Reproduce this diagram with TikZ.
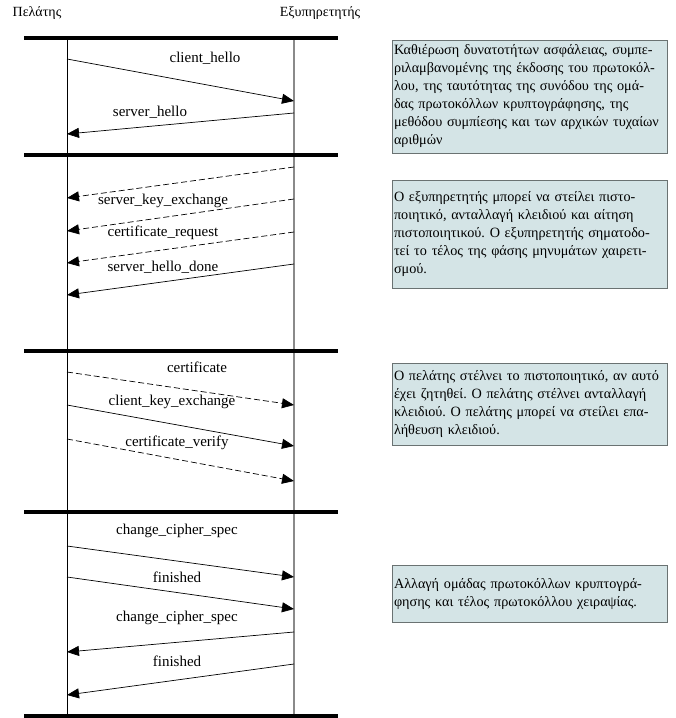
\documentclass[tikz,border=0pt]{standalone}
\usepackage{fontspec}
\setmainfont{Liberation Serif}
\usetikzlibrary{arrows.meta}
\usetikzlibrary{positioning}
\definecolor{notefill}{HTML}{D4E4E6}
\definecolor{noteedge}{HTML}{6A7272}
\definecolor{servgray}{HTML}{8A8A8A}
\frenchspacing
\tikzset{
  phasebar/.style={line width=4pt},
  msg/.style={line width=0.7pt, -{Triangle[length=12pt,width=10pt]}},
  msgdash/.style={msg, dash pattern=on 6pt off 3pt},
  msglabel/.style={font=\fontsize{15}{17}\selectfont, inner sep=0pt},
  headlabel/.style={font=\fontsize{14}{16}\selectfont, inner sep=0pt},
  notebox/.style={draw=noteedge, fill=notefill, line width=0.8pt, minimum width=275pt,
    text width=271pt, inner xsep=2pt, inner ysep=2pt, align=left,
    font=\fontsize{14.2}{18}\selectfont}
}

\begin{document}
\begin{tikzpicture}[x=1pt, y=-1pt]
            \useasboundingbox (0,0) rectangle (676,718);

            % Headers
            \node[headlabel] (client) at (37,13) {Πελάτης};
            \node[headlabel] (server) at (320,13) {Εξυπηρετητής};

            % Lifelines
            \coordinate (ctop) at (67,38);
            \coordinate (cbot) at (67,718);
            \coordinate (stop) at (294,38);
            \coordinate (sbot) at (294,718);
            \draw[line width=0.9pt] (ctop) -- (cbot);
            \draw[servgray, line width=1.2pt] (stop) -- (sbot);

            % Phase bars
            \foreach \y in {38,155,351,512,716}
                \draw[phasebar] (24,\y) -- (338,\y);

            % Phase 1
            \coordinate (c1) at (67,59);   \coordinate (s1) at (294,101);
            \coordinate (s2) at (294,113); \coordinate (c2) at (67,134);
            \draw[msg] (c1) -- (s1);
            \draw[msg] (s2) -- (c2);
            \node[msglabel] (m1) at (205,58) {client\_hello};
            \node[msglabel] (m2) at (150,112) {server\_hello};

            % Phase 2
            \coordinate (s3) at (294,167); \coordinate (c3) at (67,198);
            \coordinate (s4) at (294,199); \coordinate (c4) at (67,231);
            \coordinate (s5) at (294,232); \coordinate (c5) at (67,263);
            \coordinate (s6) at (294,264); \coordinate (c6) at (67,295);
            \draw[msgdash] (s3) -- (c3);
            \draw[msgdash] (s4) -- (c4);
            \draw[msgdash] (s5) -- (c5);
            \draw[msg] (s6) -- (c6);
            \node[msglabel] (m3) at (163,201) {server\_key\_exchange};
            \node[msglabel] (m4) at (163,233) {certificate\_request};
            \node[msglabel] (m5) at (163,267) {server\_hello\_done};

            % Phase 3
            \coordinate (c7) at (67,372);  \coordinate (s7) at (294,405);
            \coordinate (c8) at (67,405);  \coordinate (s8) at (294,446);
            \coordinate (c9) at (67,439);  \coordinate (s9) at (294,481);
            \draw[msgdash] (c7) -- (s7);
            \draw[msg] (c8) -- (s8);
            \draw[msgdash] (c9) -- (s9);
            \node[msglabel] (m6) at (197,367) {certificate};
            \node[msglabel] (m7) at (172,402) {client\_key\_exchange};
            \node[msglabel] (m8) at (177,443) {certificate\_verify};

            % Phase 4
            \coordinate (c10) at (67,546);  \coordinate (s10) at (294,577);
            \coordinate (c11) at (67,577);  \coordinate (s11) at (294,609);
            \coordinate (s12) at (294,632); \coordinate (c12) at (67,652);
            \coordinate (s13) at (294,664); \coordinate (c13) at (67,695);
            \draw[msg] (c10) -- (s10);
            \draw[msg] (c11) -- (s11);
            \draw[msg] (s12) -- (c12);
            \draw[msg] (s13) -- (c13);
            \node[msglabel] (m9) at (177,531) {change\_cipher\_spec};
            \node[msglabel] (m10) at (177,577) {finished};
            \node[msglabel] (m11) at (177,618) {change\_cipher\_spec};
            \node[msglabel] (m12) at (177,661) {finished};

            % Notes
            \node[notebox, minimum height=113pt] (note1) at (529.5,96.5)
                {Καθιέρωση δυνατοτήτων ασφάλειας, συμπε-\\
                 ριλαμβανομένης της έκδοσης του πρωτοκόλ-\\
                 λου, της ταυτότητας της συνόδου της ομά-\\
                 δας πρωτοκόλλων κρυπτογράφησης, της\\
                 μεθόδου συμπίεσης και των αρχικών τυχαίων\\
                 αριθμών};
            \node[notebox, minimum height=108pt] (note2) at (529.5,234)
                {Ο εξυπηρετητής μπορεί να στείλει πιστο-\\
                 ποιητικό, ανταλλαγή κλειδιού και αίτηση\\
                 πιστοποιητικού. Ο εξυπηρετητής σηματοδο-\\
                 τεί το τέλος της φάσης μηνυμάτων χαιρετι-\\
                 σμού.};
            \node[notebox, minimum height=82pt] (note3) at (529.5,404)
                {Ο πελάτης στέλνει το πιστοποιητικό, αν αυτό\\
                 έχει ζητηθεί. Ο πελάτης στέλνει ανταλλαγή\\
                 κλειδιού. Ο πελάτης μπορεί να στείλει επα-\\
                 λήθευση κλειδιού.};
            \node[notebox, minimum height=57pt] (note4) at (529.5,593.5)
                {Αλλαγή ομάδας πρωτοκόλλων κρυπτογρά-\\
                 φησης και τέλος πρωτοκόλλου χειραψίας.};

        \end{tikzpicture}
\end{document}
